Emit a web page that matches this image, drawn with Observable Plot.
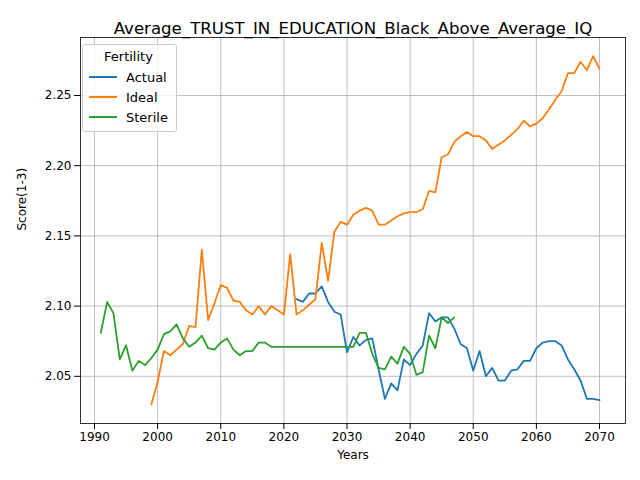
<!DOCTYPE html>
<html>
<head>
<meta charset="utf-8">
<script src="https://cdn.jsdelivr.net/npm/d3@7"></script>
<script src="https://cdn.jsdelivr.net/npm/@observablehq/plot@0.6"></script>
<style>
  body { margin: 0; font-family: "DejaVu Sans", sans-serif; }
  #wrap { position: relative; width: 640px; height: 480px; }
  #legend { position: absolute; left: 82px; top: 44px; background: rgba(255,255,255,0.8);
    border: 1px solid #ccc; border-radius: 3px; padding: 4px 8px 4px 6px; font-size: 13px; }
  #legend .t { text-align: center; margin-bottom: 3px; }
  #legend .r { display: flex; align-items: center; height: 20px; }
  #legend .s { width: 28px; height: 2px; margin-right: 9px; }
</style>
</head>
<body>
<div id="wrap"><div id="chart"></div><div id="legend"></div></div>
<script>
// series
const sterileYears = d3.range(1991, 2048)
const sterile = [2.081, 2.103, 2.095, 2.062, 2.072, 2.054, 2.061, 2.058, 2.063, 2.069,
  2.080, 2.082, 2.087, 2.077, 2.071, 2.074, 2.079, 2.070, 2.069, 2.074,
  2.077, 2.069, 2.065, 2.068, 2.068, 2.074, 2.074, 2.071, 2.071, 2.071,
  2.071, 2.071, 2.071, 2.071, 2.071, 2.071, 2.071, 2.071, 2.071, 2.071,
  2.071, 2.081, 2.081, 2.066, 2.056, 2.055, 2.064, 2.059, 2.071, 2.066,
  2.051, 2.053, 2.079, 2.070, 2.092, 2.088, 2.092]

const idealYears = d3.range(1999, 2071)
const ideal = [2.030, 2.046, 2.068, 2.065, 2.069, 2.073, 2.086, 2.085, 2.140, 2.090,
  2.102, 2.115, 2.113, 2.104, 2.103, 2.097, 2.094, 2.100, 2.094, 2.100,
  2.097, 2.094, 2.137, 2.094, 2.097, 2.101, 2.105, 2.145, 2.118, 2.153,
  2.160, 2.158, 2.165, 2.168, 2.170, 2.168, 2.158, 2.158, 2.161, 2.164,
  2.166, 2.167, 2.167, 2.169, 2.182, 2.181, 2.206, 2.208, 2.217, 2.221,
  2.224, 2.221, 2.221, 2.218, 2.212, 2.215, 2.218, 2.222, 2.226, 2.232,
  2.228, 2.230, 2.234, 2.240, 2.247, 2.253, 2.266, 2.266, 2.274, 2.268,
  2.278, 2.269]

const actualYears = d3.range(2022, 2071)
const actual = [2.105, 2.103, 2.109, 2.109, 2.114, 2.103, 2.096, 2.094, 2.067, 2.078,
  2.072, 2.076, 2.077, 2.055, 2.034, 2.045, 2.040, 2.062, 2.058, 2.066,
  2.072, 2.095, 2.089, 2.092, 2.092, 2.084, 2.073, 2.070, 2.054, 2.068,
  2.050, 2.056, 2.047, 2.047, 2.054, 2.055, 2.061, 2.061, 2.070, 2.074,
  2.075, 2.075, 2.072, 2.062, 2.055, 2.047, 2.034, 2.034, 2.033]

const seriesNames = ["Actual", "Ideal", "Sterile"]
const seriesColors = ["#1f77b4", "#ff7f0e", "#2ca02c"]
const xTicks = d3.range(1990, 2071, 10)
const yTicks = [2.05, 2.10, 2.15, 2.20, 2.25]

const rows = [
  ...actualYears.map((x, i) => ({x, y: actual[i], s: "Actual"})),
  ...idealYears.map((x, i) => ({x, y: ideal[i], s: "Ideal"})),
  ...sterileYears.map((x, i) => ({x, y: sterile[i], s: "Sterile"}))
]

let chart = Plot.plot({
  width: 640,
  height: 480,
  marginLeft: 80, marginRight: 15, marginTop: 37, marginBottom: 57,
  style: {fontFamily: "DejaVu Sans", fontSize: "10px", color: "black"},
  x: {domain: [1987.78, 2074.12], ticks: xTicks, tickFormat: d => String(d), label: null, tickSize: 4},
  y: {domain: [2.0164, 2.2913], ticks: yTicks, tickFormat: ".2f", label: null, tickSize: 4},
  color: {domain: seriesNames, range: seriesColors},
  marks: [
    Plot.gridX(xTicks, {stroke: "#b0b0b0", strokeOpacity: 1, strokeWidth: 0.8}),
    Plot.gridY(yTicks, {stroke: "#b0b0b0", strokeOpacity: 1, strokeWidth: 0.8}),
    Plot.lineY(rows, {x: "x", y: "y", stroke: "s", z: "s", strokeWidth: 1.8}),
    Plot.frame({stroke: "black", strokeWidth: 0.8}),
    Plot.axisX({ticks: xTicks, tickFormat: d => String(d), fontSize: 12, label: null}),
    Plot.axisY({ticks: yTicks, tickFormat: ".2f", fontSize: 12, label: null}),
    Plot.text(["Years"], {frameAnchor: "bottom", dy: 35, fontSize: 12}),
    Plot.text(["Score(1-3)"], {frameAnchor: "left", dx: -58, rotate: -90, fontSize: 12}),
    Plot.text(["Average_TRUST_IN_EDUCATION_Black_Above_Average_IQ"], {frameAnchor: "top", dy: -15, fontSize: 16.6})
  ]
})
d3.select('#chart').append(() => chart)

const leg = d3.select('#legend')
leg.append('div').attr('class', 't').text('Fertility')
seriesNames.forEach((n, i) => {
  const r = leg.append('div').attr('class', 'r')
  r.append('div').attr('class', 's').style('background', seriesColors[i])
  r.append('span').text(n)
})
</script>
</body>
</html>
